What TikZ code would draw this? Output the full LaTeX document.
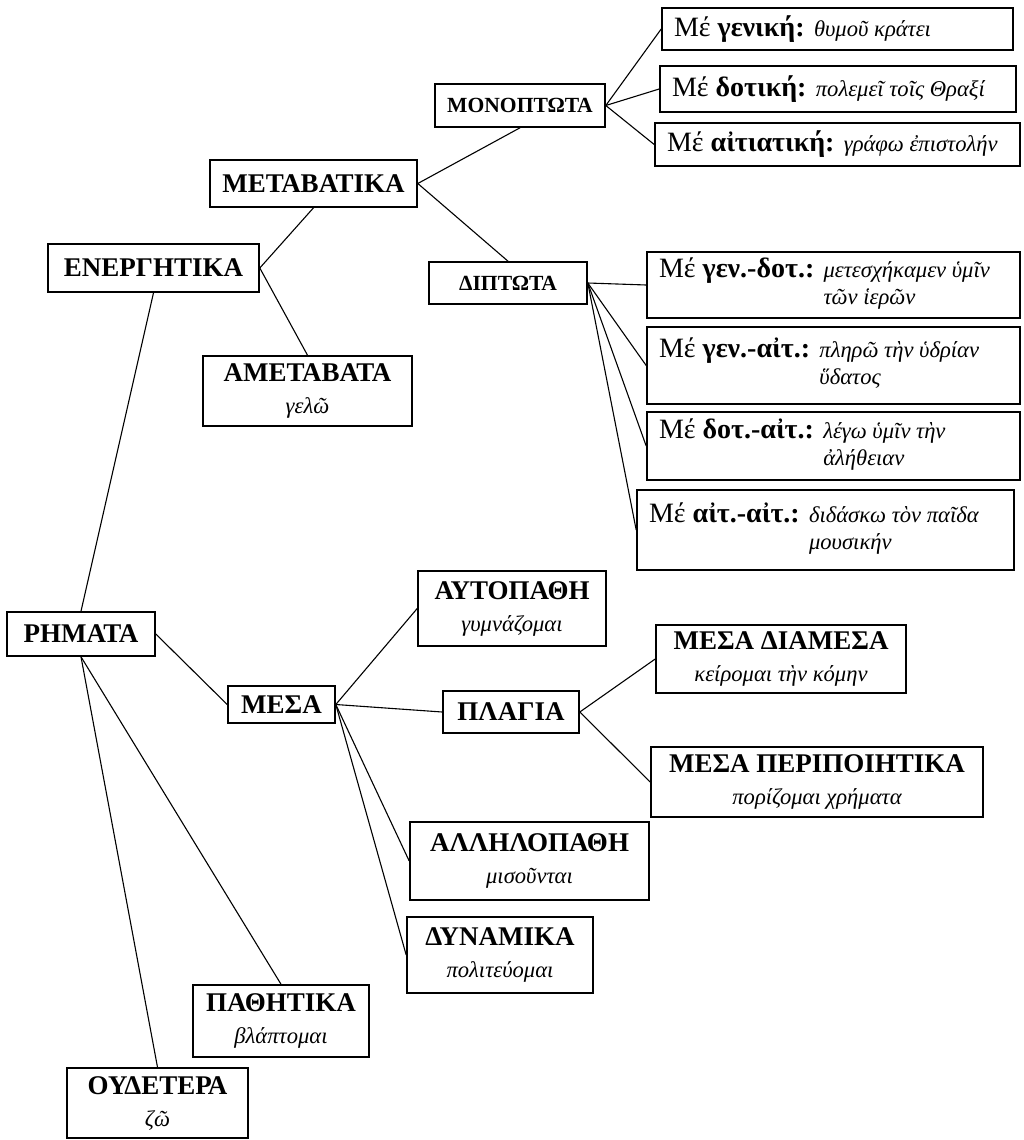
\documentclass[tikz,border=0pt]{standalone}
\usepackage{fontspec}
\setmainfont{Liberation Serif}
\newcommand{\headfont}{\fontsize{13.5}{16}\selectfont\bfseries}
\newcommand{\subfont}{\fontsize{10.8}{13}\selectfont\bfseries}
\newcommand{\casefont}{\fontsize{14}{15}\selectfont}
\newcommand{\exm}[1]{{\fontsize{11.3}{13}\selectfont\mdseries\itshape #1}}
\newcommand{\withcase}[2]{{\spaceskip=0pt \xspaceskip=0pt
  \mbox{Μέ \textbf{#1} \exm{#2}}}}
\newcommand{\withcasetwo}[3]{{\spaceskip=0pt \xspaceskip=0pt
  \renewcommand\arraystretch{0.9}%
  \mbox{Μέ \textbf{#1} \begin{tabular}[t]{@{}l@{}}\exm{#2}\\ \exm{#3}\end{tabular}}}}

\begin{document}
\begin{tikzpicture}[x=0.5pt, y=-0.5pt,
  box/.style={draw, line width=0.8pt, inner sep=0pt, align=center, font=\headfont},
  small box/.style={box, font=\subfont},
  case box/.style={draw, line width=0.8pt, inner xsep=6pt, inner ysep=0pt, align=flush left, font=\casefont},
  link/.style={line width=0.55pt}]
  \useasboundingbox (0,0) rectangle (1023,1140);

  % root
  \node[box, minimum width=74pt, minimum height=22pt] (rhmata) at (81,634) {ΡΗΜΑΤΑ};

  % active
  \node[box, minimum width=105.5pt, minimum height=24pt] (energ) at (153.5,268) {ΕΝΕΡΓΗΤΙΚΑ};
  \node[box, minimum width=103.5pt, minimum height=23.5pt] (meta) at (313.5,183.5) {ΜΕΤΑΒΑΤΙΚΑ};
  \node[box, minimum width=104.5pt, minimum height=35pt] (ameta) at (307.5,391) {ΑΜΕΤΑΒΑΤΑ\\ \exm{γελῶ}};
  \node[small box, minimum width=85pt, minimum height=21.5pt] (mono) at (520,105.5) {ΜΟΝΟΠΤΩΤΑ};
  \node[small box, minimum width=79pt, minimum height=21pt] (dipt) at (508,283) {ΔΙΠΤΩΤΑ};

  % one case
  \node[case box, text width=163.5pt, minimum height=21pt] (gen) at (837.5,29) {\withcase{γενική:}{θυμοῦ κράτει}};
  \node[case box, text width=166pt, minimum height=23pt] (dot) at (838,89) {\withcase{δοτική:}{πολεμεῖ τοῖς Θραξί}};
  \node[case box, text width=170.5pt, minimum height=21.5pt] (ait) at (837.5,144.5) {\withcase{αἰτιατική:}{γράφω ἐπιστολήν}};

  % two cases
  \node[case box, text width=174.5pt, minimum height=33pt] (gendot) at (833.5,285) {\withcasetwo{γεν.-δοτ.:}{μετεσχήκαμεν ὑμῖν}{τῶν ἱερῶν}};
  \node[case box, text width=174.5pt, minimum height=38.5pt] (genait) at (833.5,365.5) {\withcasetwo{γεν.-αἰτ.:}{πληρῶ τὴν ὑδρίαν}{ὕδατος}};
  \node[case box, text width=174.5pt, minimum height=34pt] (dotait) at (833.5,446) {\withcasetwo{δοτ.-αἰτ.:}{λέγω ὑμῖν τὴν}{ἀλήθειαν}};
  \node[case box, text width=176.5pt, minimum height=40pt] (aitait) at (825.5,530) {\withcasetwo{αἰτ.-αἰτ.:}{διδάσκω τὸν παῖδα}{μουσικήν}};

  % middle
  \node[box, minimum width=53.5pt, minimum height=18.5pt] (mesa) at (281.5,704.5) {ΜΕΣΑ};
  \node[box, minimum width=94pt, minimum height=37.5pt] (auto) at (512,608.5) {ΑΥΤΟΠΑΘΗ\\ \exm{γυμνάζομαι}};
  \node[box, minimum width=68pt, minimum height=21pt] (plagia) at (511,712) {ΠΛΑΓΙΑ};
  \node[box, minimum width=125pt, minimum height=34pt] (diames) at (781,659) {ΜΕΣΑ ΔΙΑΜΕΣΑ\\ \exm{κείρομαι τὴν κόμην}};
  \node[box, minimum width=166pt, minimum height=35pt] (peripo) at (817,782) {ΜΕΣΑ ΠΕΡΙΠΟΙΗΤΙΚΑ\\ \exm{πορίζομαι χρήματα}};
  \node[box, minimum width=119.5pt, minimum height=39pt] (allhl) at (529.5,861) {ΑΛΛΗΛΟΠΑΘΗ\\ \exm{μισοῦνται}};
  \node[box, minimum width=93pt, minimum height=38pt] (dynam) at (500,955) {ΔΥΝΑΜΙΚΑ\\ \exm{πολιτεύομαι}};

  % passive and neuter
  \node[box, minimum width=88pt, minimum height=36pt] (pathit) at (281,1021) {ΠΑΘΗΤΙΚΑ\\ \exm{βλάπτομαι}};
  \node[box, minimum width=90.5pt, minimum height=35pt] (oudet) at (157.5,1103) {ΟΥΔΕΤΕΡΑ\\ \exm{ζῶ}};

  % links
  \draw[link] (rhmata.north) -- (energ.south);
  \draw[link] (rhmata.east) -- (mesa.west);
  \draw[link] (rhmata.south) -- (pathit.north);
  \draw[link] (rhmata.south) -- (oudet.north);
  \draw[link] (energ.east) -- (meta.south);
  \draw[link] (energ.east) -- (ameta.north);
  \draw[link] (meta.east) -- (mono.south);
  \draw[link] (meta.east) -- (dipt.north);
  \foreach \n in {gen,dot,ait}
    \draw[link] (mono.east) -- (\n.west);
  \foreach \n in {gendot,genait,dotait,aitait}
    \draw[link] (dipt.east) -- (\n.west);
  \foreach \n in {auto,plagia,allhl,dynam}
    \draw[link] (mesa.east) -- (\n.west);
  \draw[link] (plagia.east) -- (diames.west);
  \draw[link] (plagia.east) -- (peripo.west);
\end{tikzpicture}
\end{document}
